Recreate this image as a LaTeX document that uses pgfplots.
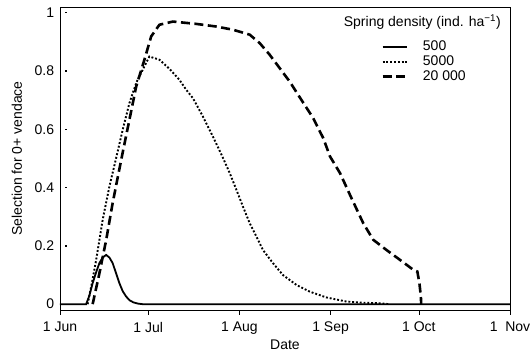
\documentclass[border=0pt]{standalone}
\usepackage{fontspec}
\setmainfont{Liberation Sans}
\usepackage{pgfplots}
\pgfplotsset{compat=1.18}
\begin{document}
\fontsize{14}{16}\selectfont
\begin{tikzpicture}
\begin{axis}[
  scale only axis,
  width=450pt, height=303pt,
  xmin=0, xmax=153,
  ymin=-0.02, ymax=1.02,
  xtick={0,30,61,92,122,153},
  xticklabels={1 Jun,1 Jul,1 Aug,1 Sep,1 Oct,1\ \ Nov},
  ytick={0,0.2,0.4,0.6,0.8,1},
  yticklabels={0,0.2,0.4,0.6,0.8,1},
  xtick align=outside,
  ytick align=inside,
  xtick pos=bottom,
  ytick pos=left,
  x tick style={black, line width=0.6pt, /pgfplots/major tick length=5pt},
  y tick style={black, line width=1.2pt, xshift=5.5pt, /pgfplots/major tick length=1.2pt},
  axis line style={line width=0.7pt},
  tick label style={font=\fontsize{14}{16}\selectfont},
  label style={font=\fontsize{14}{16}\selectfont},
  /pgf/number format/assume math mode=true,
  xlabel={Date},
  ylabel={Selection for 0+ vendace},
  x label style={at={(axis description cs:0.5,-0.115)}, anchor=center},
  y label style={at={(axis description cs:-0.096,0.5)}, anchor=center},
  xticklabel style={yshift=-3pt},
  yticklabel style={xshift=-1pt},
  legend style={draw=none, fill=none, at={(rel axis cs:0.707,0.895)}, anchor=north west,
    font=\fontsize{14}{16}\selectfont, nodes={inner sep=0pt}, row sep=3pt,
    /tikz/every odd column/.style={column sep=15pt}},
  legend cell align=left,
  legend image code/.code={\draw[#1] (0pt,0pt) -- (24pt,0pt);},
]
\addplot[black, line width=1.8pt, legend image post style={line width=2.2pt}] coordinates {
(0,0) (8.9,0) (10,0.03) (11.1,0.072) (12.3,0.11) (13.4,0.141) (14.5,0.16) (15.7,0.169) (16.8,0.16) (17.9,0.141) (19,0.108) (20.2,0.072) (21.3,0.045) (22.5,0.026) (23.7,0.013) (25,0.006) (26.5,0.002) (28,0) (153,0)};
\addlegendentry{500}
\addplot[black, line width=1.9pt, dash pattern=on 1.9pt off 1.9pt] coordinates {
(9.4,0) (10.8,0.07) (12.3,0.152) (14.5,0.289) (16.8,0.404) (19.1,0.502) (21.3,0.598) (23.6,0.69) (25.9,0.759) (28.1,0.804) (30.4,0.85) (33.8,0.839) (37.2,0.808) (40.6,0.77) (42.9,0.736) (45.2,0.707) (48.6,0.644) (52,0.575) (55.2,0.507) (57.7,0.45) (60,0.392) (62.2,0.335) (64.5,0.278) (66.8,0.232) (69,0.186) (72.4,0.141) (75.8,0.10) (80.4,0.066) (84.9,0.043) (90.6,0.023) (97.4,0.009) (103,0.005) (108.8,0.003) (112,0)};
\addlegendentry{5000}
\addplot[black, line width=2.6pt, dash pattern=on 9pt off 4.5pt] coordinates {
(11.1,0) (13.4,0.106) (15.7,0.22) (17.9,0.347) (20.8,0.495) (23.6,0.633) (25.9,0.747) (28.7,0.839) (31,0.919) (33.8,0.959) (38.4,0.97) (46.3,0.962) (53.1,0.953) (58.8,0.942) (64.5,0.925) (67.9,0.896) (71.3,0.856) (74.7,0.81) (78.1,0.764) (81,0.718) (86,0.64) (89.5,0.57) (91.8,0.507) (95.2,0.45) (99.1,0.364) (103.1,0.278) (106.5,0.221) (111,0.186) (115.6,0.152) (120.1,0.118) (121.5,0.112) (122.2,0.072) (122.7,0.026) (122.8,0)};
\addlegendentry{20 000}
\node[anchor=north east, inner sep=0pt, font=\fontsize{14}{16}\selectfont] at (rel axis cs:0.98,0.975) {Spring density (ind. ha\textsuperscript{−1})};
\end{axis}
\pgfresetboundingbox
\path[use as bounding box] (current axis.south west)++(-60pt,-45pt) rectangle ([shift={(20pt,7pt)}]current axis.north east);
\end{tikzpicture}
\end{document}
